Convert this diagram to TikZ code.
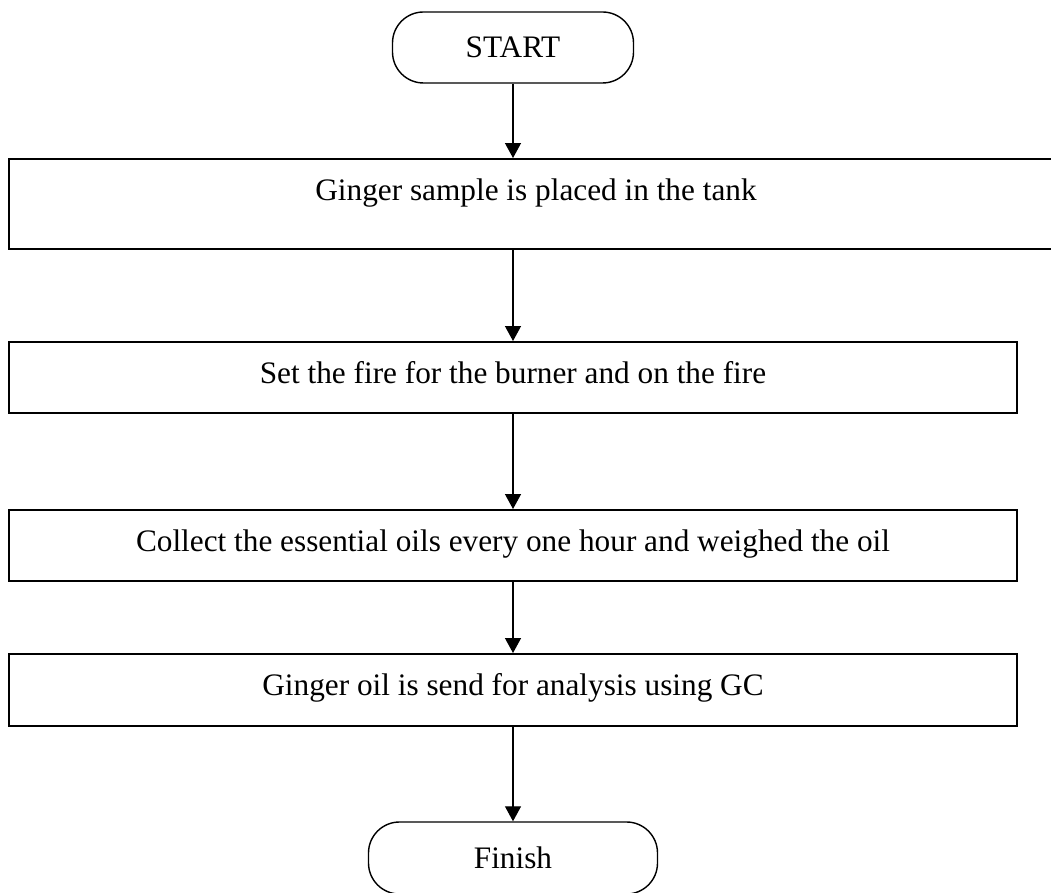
\documentclass[tikz,border=0pt]{standalone}
\usepackage{fontspec}
\setmainfont{Liberation Serif}
\usetikzlibrary{arrows.meta}
\begin{document}
\begin{tikzpicture}[->,>={Triangle[length=3mm,width=3.2mm]},draw=black!100,line width=0.7pt]
	\def \startht{16.89cm}
	\def \rowoneht{13.76cm}
	\def \rowtwoht{10.29cm}
	\def \rowthreeht{6.93cm}
	\def \rowfourht{4.04cm}
	\def \finishht{0.68cm}
	\tikzstyle{term-node}=[rectangle,rounded corners=0.62cm,draw=black!100,line width=0.8pt,inner sep=0pt,minimum width=4.82cm,minimum height=1.42cm]
	\tikzstyle{step-node}=[rectangle,draw=black!100,line width=1.1pt,inner sep=0pt,minimum width=20.16cm,minimum height=1.42cm,text height=12pt,text depth=5.7pt]
	\useasboundingbox (0,0) rectangle (21.02cm,17.84cm);
	\clip (0,0) rectangle (21.02cm,17.84cm);
	\fontsize{17.8pt}{22pt}\selectfont
	% start and end
	\node[term-node]	(start)	at (10.26cm,\startht)	{START};
	\node[term-node,minimum width=5.78cm,minimum height=1.44cm]	(finish)	at (10.26cm,\finishht)	{Finish};
	
	% process steps
	\node[step-node,minimum width=21.08cm,minimum height=1.8cm,text depth=16pt]	(tank)	at (10.72cm,\rowoneht)	{Ginger sample is placed in the tank};
	\node[step-node]	(burner)	at (10.26cm,\rowtwoht)	{Set the fire for the burner and on the fire};
	\node[step-node]	(collect)	at (10.26cm,\rowthreeht)	{Collect the essential oils every one hour and weighed the oil};
	\node[step-node,minimum height=1.44cm]	(analysis)	at (10.26cm,\rowfourht)	{Ginger oil is send for analysis using GC};
	
	\path
		(start)	edge	(start |- tank.north)
		(tank.south -| start)	edge	(burner)
		(burner)	edge	(collect)
		(collect)	edge	(analysis)
		(analysis)	edge	(finish);
		
\end{tikzpicture}
\end{document}
